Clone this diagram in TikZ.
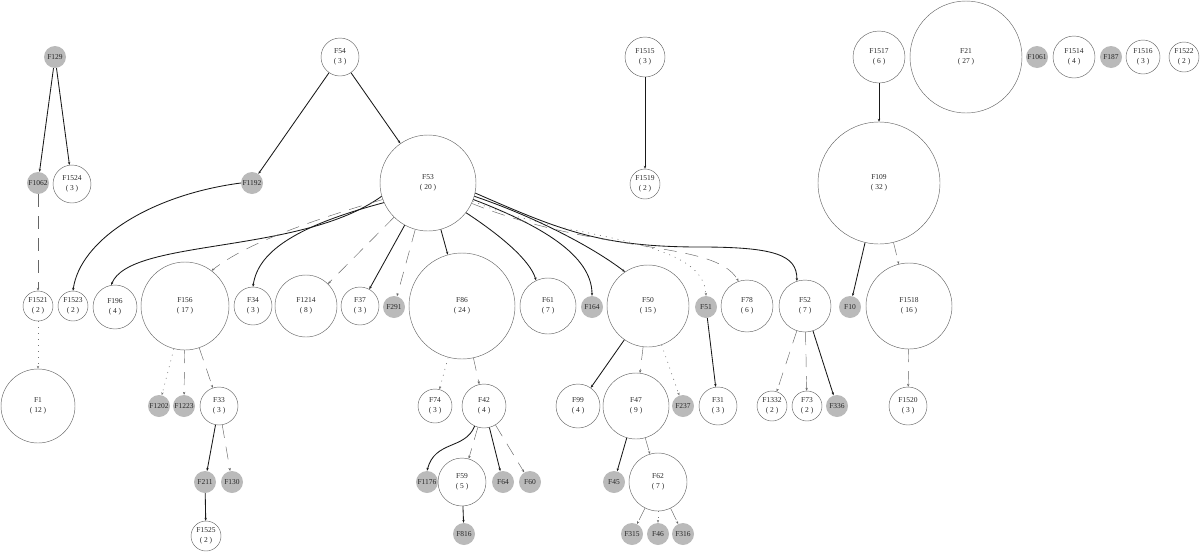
\documentclass[tikz,border=0pt]{standalone}
\usepackage{fontspec}
\setmainfont{Liberation Serif}
\usetikzlibrary{arrows.meta}
\newcommand\nlab{\fontsize{7.5}{9.5}\selectfont}
\tikzset{
  wn/.style={circle, draw=black!60, line width=0.45pt, inner sep=0pt, align=center, font=\nlab, text=black!85},
  gn/.style={circle, fill=black!27, inner sep=0pt, minimum size=22pt, font=\nlab, text=black!85},
  tip/.style={-{Stealth[length=3pt,width=2.4pt]}},
  sol/.style={tip, line width=0.85pt, black!90},
  dsh/.style={tip, line width=0.45pt, black!60, dash pattern=on 13pt off 9pt},
  dot/.style={tip, line width=0.6pt, black!55, dash pattern=on 1pt off 5pt},
}
\begin{document}
\begin{tikzpicture}[x=1pt,y=-1pt]
\useasboundingbox (0,0) rectangle (1200,552);
% white nodes
\node[wn, minimum size=38pt] (F54) at (340,57) {F54\\( 3 )};
\node[wn, minimum size=40pt] (F1515) at (645,57) {F1515\\( 3 )};
\node[wn, minimum size=52pt] (F1517) at (879,57) {F1517\\( 6 )};
\node[wn, minimum size=112pt] (F21) at (966,57) {F21\\( 27 )};
\node[wn, minimum size=42pt] (F1514) at (1074,57) {F1514\\( 4 )};
\node[wn, minimum size=34pt] (F1516) at (1143,57) {F1516\\( 3 )};
\node[wn, minimum size=30pt] (F1522) at (1184,57) {F1522\\( 2 )};
\node[wn, minimum size=38pt] (F1524) at (72,184) {F1524\\( 3 )};
\node[wn, minimum size=96pt] (F53) at (428,183) {F53\\( 20 )};
\node[wn, minimum size=30pt] (F1519) at (645,184) {F1519\\( 2 )};
\node[wn, minimum size=122pt] (F109) at (879,183) {F109\\( 32 )};
\node[wn, minimum size=30pt] (F1521) at (38,306) {F1521\\( 2 )};
\node[wn, minimum size=30pt] (F1523) at (73,306) {F1523\\( 2 )};
\node[wn, minimum size=44pt] (F196) at (115,307) {F196\\( 4 )};
\node[wn, minimum size=88pt] (F156) at (185,306) {F156\\( 17 )};
\node[wn, minimum size=38pt] (F34) at (253,306) {F34\\( 3 )};
\node[wn, minimum size=62pt] (F1214) at (306,306) {F1214\\( 8 )};
\node[wn, minimum size=38pt] (F37) at (360,306) {F37\\( 3 )};
\node[wn, minimum size=106pt] (F86) at (462,306) {F86\\( 24 )};
\node[wn, minimum size=56pt] (F61) at (548,306) {F61\\( 7 )};
\node[wn, minimum size=82pt] (F50) at (648,306) {F50\\( 15 )};
\node[wn, minimum size=52pt] (F78) at (747,306) {F78\\( 6 )};
\node[wn, minimum size=52pt] (F52) at (805,306) {F52\\( 7 )};
\node[wn, minimum size=86pt] (F1518) at (909,306) {F1518\\( 16 )};
\node[wn, minimum size=74pt] (F1) at (38,406) {F1\\( 12 )};
\node[wn, minimum size=38pt] (F33) at (219,406) {F33\\( 3 )};
\node[wn, minimum size=34pt] (F74) at (435,406) {F74\\( 3 )};
\node[wn, minimum size=44pt] (F42) at (484,406) {F42\\( 4 )};
\node[wn, minimum size=44pt] (F99) at (578,406) {F99\\( 4 )};
\node[wn, minimum size=66pt] (F47) at (636,406) {F47\\( 9 )};
\node[wn, minimum size=38pt] (F31) at (718,406) {F31\\( 3 )};
\node[wn, minimum size=30pt] (F1332) at (772,406) {F1332\\( 2 )};
\node[wn, minimum size=30pt] (F73) at (807,406) {F73\\( 2 )};
\node[wn, minimum size=38pt] (F1520) at (908,406) {F1520\\( 3 )};
\node[wn, minimum size=48pt] (F59) at (462,482) {F59\\( 5 )};
\node[wn, minimum size=58pt] (F62) at (658,482) {F62\\( 7 )};
\node[wn, minimum size=30pt] (F1525) at (206,536) {F1525\\( 2 )};
% gray nodes
\node[gn] (F129) at (55,57) {F129};
\node[gn] (F1061) at (1037,57) {F1061};
\node[gn] (F187) at (1111,57) {F187};
\node[gn] (F1062) at (38,183) {F1062};
\node[gn] (F1192) at (252,183) {F1192};
\node[gn] (F291) at (394,307) {F291};
\node[gn] (F164) at (592,307) {F164};
\node[gn] (F51) at (706,307) {F51};
\node[gn] (F10) at (850,307) {F10};
\node[gn] (F1202) at (159,406) {F1202};
\node[gn] (F1223) at (184,406) {F1223};
\node[gn] (F237) at (683,406) {F237};
\node[gn] (F336) at (837,406) {F336};
\node[gn] (F211) at (205,482) {F211};
\node[gn] (F130) at (232,482) {F130};
\node[gn] (F1176) at (427,482) {F1176};
\node[gn] (F64) at (503,482) {F64};
\node[gn] (F60) at (530,482) {F60};
\node[gn] (F45) at (614,482) {F45};
\node[gn] (F816) at (464,534) {F816};
\node[gn] (F315) at (632,534) {F315};
\node[gn] (F46) at (658,534) {F46};
\node[gn] (F316) at (683,534) {F316};
% solid edges
\draw[sol] (F129) -- (F1062);
\draw[sol] (F129) -- (F1524);
\draw[sol] (F54) -- (F1192);
\draw[sol] (F54) -- (F53);
\draw[sol] (F1192.west) .. controls (150,195) and (80,240) .. (F1523.north);
\draw[sol] (F53.196) .. controls (300,255) and (130,238) .. (F196.100);
\draw[sol] (F53.204) .. controls (300,225) and (258,250) .. (F34.north);
\draw[sol] (F53) -- (F37);
\draw[sol] (F53) -- (F86);
\draw[sol] (F53.-38) .. controls (500,235) and (530,260) .. (F61.115);
\draw[sol] (F53.-20) .. controls (540,225) and (592,255) .. (F164.north);
\draw[sol] (F53.-16) .. controls (530,215) and (590,245) .. (F50.124);
\draw[sol] (F53.-12) .. controls (560,230) and (600,247) .. (700,247) .. controls (775,247) and (797,255) .. (F52.108);
\draw[sol] (F33) -- (F211);
\draw[sol] (F211) -- (F1525);
\draw[sol] (F42.245) .. controls (465,450) and (435,440) .. (F1176.north);
\draw[sol] (F42) -- (F64);
\draw[sol] (F59) -- (F816);
\draw[sol] (F50) -- (F99);
\draw[sol] (F51) -- (F31);
\draw[sol] (F47) -- (F45);
\draw[sol] (F52) -- (F336);
\draw[sol] (F1515) -- (F1519);
\draw[sol] (F1517) -- (F109);
\draw[sol] (F109) -- (F10);
% dashed edges
\draw[dsh] (F1062) -- (F1521);
\draw[dsh] (F53.200) .. controls (330,215) and (250,240) .. (F156.53);
\draw[dsh] (F53) -- (F1214);
\draw[dsh] (F53) -- (F291);
\draw[dsh] (F53.-25) .. controls (600,255) and (715,240) .. (F78.109);
\draw[dsh] (F156) -- (F1223);
\draw[dsh] (F156) -- (F33);
\draw[dsh] (F33) -- (F130);
\draw[dsh] (F86) -- (F42);
\draw[dsh] (F42) -- (F59);
\draw[dsh] (F42) -- (F60);
\draw[dsh] (F50) -- (F47);
\draw[dsh] (F47) -- (F62);
\draw[dsh] (F62) -- (F315);
\draw[dsh] (F62) -- (F316);
\draw[dsh] (F52) -- (F1332);
\draw[dsh] (F52) -- (F73);
\draw[dsh] (F109) -- (F1518);
\draw[dsh] (F1518) -- (F1520);
% dotted edges
\draw[dot] (F1521) -- (F1);
\draw[dot] (F53.-22) .. controls (560,240) and (703,235) .. (F51.north);
\draw[dot] (F156) -- (F1202);
\draw[dot] (F86) -- (F74);
\draw[dot] (F50) -- (F237);
\draw[dot] (F62) -- (F46);
\end{tikzpicture}
\end{document}
